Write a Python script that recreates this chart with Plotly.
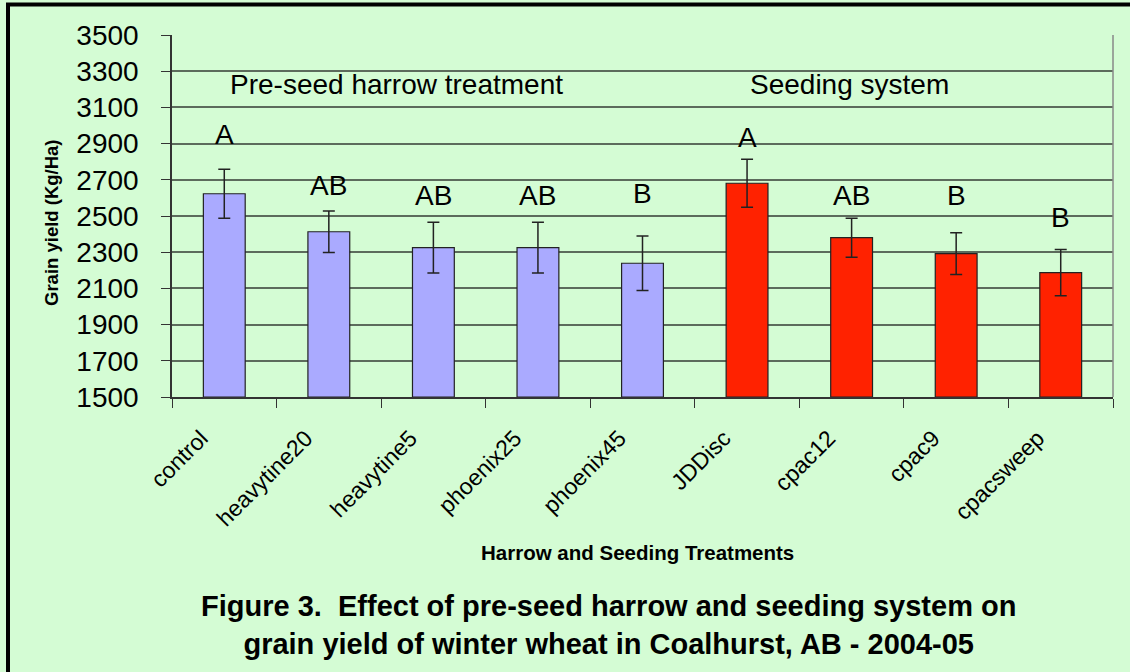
import plotly.graph_objects as go

categories = ["control", "heavytine20", "heavytine5", "phoenix25", "phoenix45",
              "JDDisc", "cpac12", "cpac9", "cpacsweep"]
yields = [2623, 2413, 2325, 2325, 2239, 2681, 2380, 2292, 2187]
errors = [135, 115, 140, 140, 150, 132, 108, 115, 128]
groups = ["harrow"] * 5 + ["seeding"] * 4
letters = ["A", "AB", "AB", "AB", "B", "A", "AB", "B", "B"]
letter_y = [2948, 2671, 2616, 2616, 2627, 2936, 2616, 2616, 2489]
group_labels = ["Pre-seed harrow treatment", "Seeding system"]
group_label_x = [1.65, 5.98]
group_label_y = [3224, 3224]
y_ticks = list(range(1500, 3501, 200))

colors = {"harrow": "#AAAAFF", "seeding": "#FF2200"}
bg = "#D4FCD4"
FONT = "Liberation Sans, Arial, sans-serif"

L, R, T, B = 172, 17, 35, 275
W, H = 1130, 672
PW, PH = W - L - R, H - T - B


def px_x(px):
    return (px - L) / PW


def px_y(py):
    return (H - B - py) / PH


fig = go.Figure()
fig.add_trace(go.Bar(
    x=categories, y=[v - 1500 for v in yields], base=1500,
    marker=dict(color=[colors[g] for g in groups],
                line=dict(color="#222222", width=1.2)),
    error_y=dict(type="data", array=errors, color="#222222",
                 thickness=1.5, width=6),
    width=0.4, showlegend=False,
))

annotations = []
for c, t, ly in zip(categories, letters, letter_y):
    annotations.append(dict(x=c, y=ly, text=t, showarrow=False,
                            xref="x", yref="y",
                            font=dict(family=FONT, size=28, color="black")))
for t, gx, gy in zip(group_labels, group_label_x, group_label_y):
    annotations.append(dict(x=gx, y=gy, text=t, showarrow=False,
                            xref="x", yref="y",
                            font=dict(family=FONT, size=28, color="black")))

annotations.append(dict(
    x=px_x(637), y=px_y(552), xref="paper", yref="paper",
    xanchor="center", yanchor="middle",
    text="<b>Harrow and Seeding Treatments</b>", showarrow=False,
    font=dict(family=FONT, size=20.5, color="black"),
))
annotations.append(dict(
    x=px_x(51), y=px_y(222), xref="paper", yref="paper", textangle=-90,
    xanchor="center", yanchor="middle",
    text="<b>Grain yield (Kg/Ha)</b>", showarrow=False,
    font=dict(family=FONT, size=18.5, color="black"),
))
annotations.append(dict(
    x=px_x(608), y=px_y(625), xref="paper", yref="paper",
    xanchor="center", yanchor="middle",
    text="<b>Figure 3.  Effect of pre-seed harrow and seeding system on<br>grain yield of winter wheat in Coalhurst, AB - 2004-05</b>",
    showarrow=False, align="center",
    font=dict(family=FONT, size=29, color="black"),
))

shapes = [
    dict(type="line", xref="paper", yref="paper",
         x0=px_x(6), x1=px_x(1130), y0=px_y(4.5), y1=px_y(4.5),
         line=dict(color="black", width=4)),
    dict(type="line", xref="paper", yref="paper",
         x0=px_x(8), x1=px_x(8), y0=px_y(3), y1=px_y(672),
         line=dict(color="black", width=4)),
    dict(type="line", xref="paper", yref="paper",
         x0=1, x1=1, y0=0, y1=1,
         line=dict(color="#888888", width=1.5)),
]

fig.update_layout(
    width=W, height=H,
    margin=dict(l=L, r=R, t=T, b=B),
    paper_bgcolor=bg, plot_bgcolor=bg,
    annotations=annotations, shapes=shapes,
    bargap=0.6,
    xaxis=dict(
        type="category", tickangle=-45,
        tickfont=dict(family=FONT, size=23, color="black"),
        ticklabelstandoff=17, ticklabelshift=-23,
        showline=True, linecolor="#333333", linewidth=1.5,
        ticks="outside", tickson="boundaries", ticklen=9, tickcolor="#333333",
        showgrid=False,
    ),
    yaxis=dict(
        range=[1500, 3500], tickvals=y_ticks,
        tickfont=dict(family=FONT, size=28, color="black"),
        ticklabelstandoff=17,
        showline=True, linecolor="#333333", linewidth=1.5,
        ticks="outside", ticklen=9, tickcolor="#333333",
        showgrid=True, gridcolor="#5C6B5C", gridwidth=1.5,
        zeroline=False,
    ),
)

fig.write_html("out.html", config={"displayModeBar": False},
               post_script="document.body.style.margin='0';")
